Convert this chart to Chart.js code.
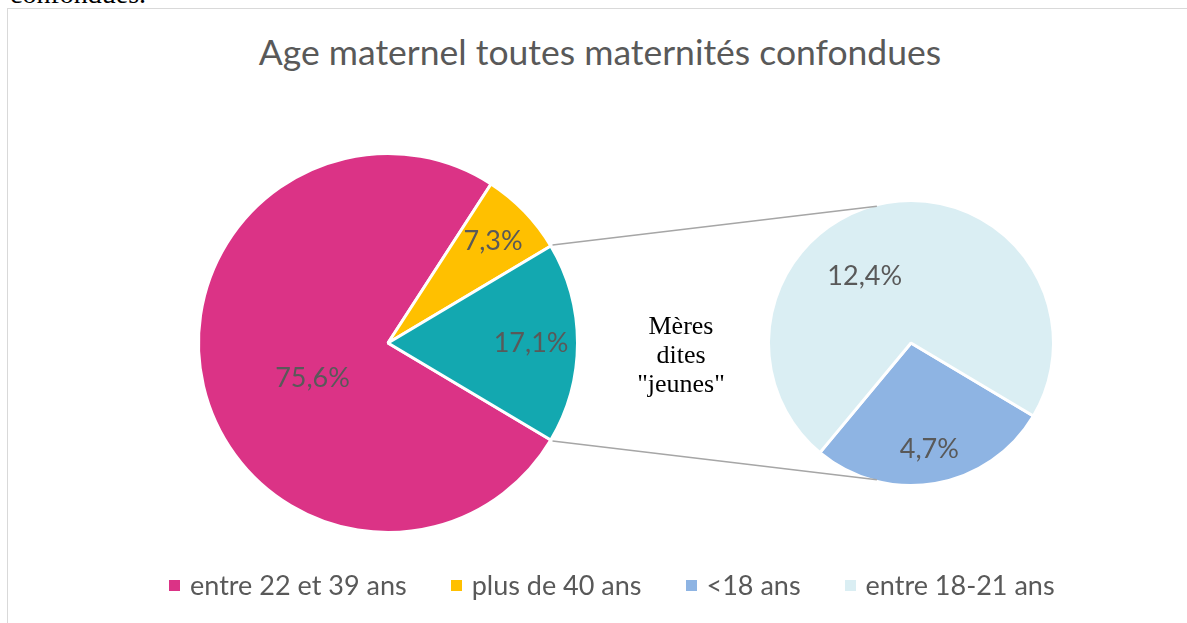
<!DOCTYPE html>
<html lang="fr">
<head>
<meta charset="utf-8">
<script src="https://cdn.jsdelivr.net/npm/chart.js@4.4.1/dist/chart.umd.min.js"></script>
<style>
  html, body { margin: 0; padding: 0; background: #fff; }
  body { width: 1187px; height: 623px; position: relative; overflow: hidden; font-family: Lato, "Open Sans", sans-serif; }
  #cut { position: absolute; left: 10px; top: -22px; font: 28px "Liberation Serif", serif; color: #000; white-space: nowrap; }
  #frame { position: absolute; left: 7px; top: 8px; right: -2px; bottom: -2px; border-left: 1px solid #d9d9d9; border-top: 1px solid #d9d9d9; }
  #title { position: absolute; left: 0; width: 1200px; top: 30px; text-align: center; font-size: 35.5px; line-height: 44px; color: #595959; }
  .layer { position: absolute; left: 0; top: 0; }
  #jeunes { position: absolute; left: 596px; width: 170px; top: 311px; text-align: center; font: 26px/29px "Liberation Serif", serif; color: #000; }
  #legend { position: absolute; left: 169px; top: 569px; display: flex; gap: 44px; font-size: 27px; line-height: 32px; color: #595959; }
  #legend span { display: flex; align-items: center; }
  #legend i { display: inline-block; width: 11px; height: 11px; margin-right: 10px; }
</style>
</head>
<body>
<div id="cut">confondues.</div>
<div id="frame"></div>
<div id="title">Age maternel toutes maternités confondues</div>
<canvas id="mainPie" class="layer" width="1187" height="623"></canvas>
<canvas id="subPie" class="layer" width="1187" height="623"></canvas>
<div id="jeunes">Mères<br>dites<br>"jeunes"</div>
<div id="legend"></div>

<script>
// pie 1: all ages (percent)
const mainLabels = ['entre 22 et 39 ans', 'plus de 40 ans', 'Mères dites "jeunes"'];
const mainValues = [75.6, 7.3, 17.1];
const mainColors = ['#DB3386', '#FFC000', '#13A8B0'];

// pie 2: breakdown of the "jeunes" slice
const subLabels = ['<18 ans', 'entre 18-21 ans'];
const subValues = [4.7, 12.4];
const subColors = ['#8EB4E3', '#DAEEF3'];

const legendItems = [
    [mainLabels[0], mainColors[0]],
    [mainLabels[1], mainColors[1]],
    [subLabels[0], subColors[0]],
    [subLabels[1], subColors[1]]
];

const fmt = v => v.toFixed(1).replace('.', ',') + '%';
const toRad = d => d * Math.PI / 180;

// draws the percent text inside each slice
const sliceLabels = {
    id: 'sliceLabels',
    afterDatasetsDraw(chart, args, opts) {
        const ctx = chart.ctx;
        const meta = chart.getDatasetMeta(0);
        const values = chart.data.datasets[0].data;
        ctx.save();
        ctx.font = '27px Lato, "Open Sans", sans-serif';
        ctx.fillStyle = '#595959';
        ctx.textAlign = 'center';
        ctx.textBaseline = 'middle';
        meta.data.forEach((arc, i) => {
            const p = arc.getProps(['x', 'y', 'startAngle', 'endAngle', 'outerRadius'], true);
            const spot = opts.spots[i];
            const a = (p.startAngle + p.endAngle) / 2 + toRad(spot.a);
            const r = p.outerRadius * spot.r;
            ctx.fillText(fmt(values[i]), p.x + Math.cos(a) * r, p.y + Math.sin(a) * r);
        });
        ctx.restore();
    }
};

let mainChart = null;

// grey lines joining the teal slice to the second pie
const connectors = {
    id: 'connectors',
    afterDatasetsDraw(chart, args, opts) {
        if (!mainChart) return;
        const teal = mainChart.getDatasetMeta(0).data[2].getProps(['x', 'y', 'startAngle', 'endAngle', 'outerRadius'], true);
        const sub = chart.getDatasetMeta(0).data[0].getProps(['x', 'y', 'outerRadius'], true);
        const ctx = chart.ctx;
        const r1 = teal.outerRadius + 2;
        const r2 = sub.outerRadius - 1.5;
        ctx.save();
        ctx.strokeStyle = '#A6A6A6';
        ctx.lineWidth = 1.5;
        [[teal.startAngle, -opts.angle], [teal.endAngle, opts.angle]].forEach(([a1, a2]) => {
            ctx.beginPath();
            ctx.moveTo(teal.x + Math.cos(a1) * r1, teal.y + Math.sin(a1) * r1);
            ctx.lineTo(sub.x + Math.cos(toRad(a2)) * r2, sub.y + Math.sin(toRad(a2)) * r2);
            ctx.stroke();
        });
        ctx.restore();
    }
};

function pieOptions(padding, spots, extra) {
    return {
        responsive: false,
        animation: false,
        devicePixelRatio: 1,
        rotation: 120.78,
        layout: { padding },
        plugins: Object.assign({
            legend: { display: false },
            tooltip: { enabled: false },
            sliceLabels: { spots }
        }, extra || {})
    };
}

mainChart = new Chart(document.getElementById('mainPie'), {
    type: 'pie',
    data: {
        labels: mainLabels,
        datasets: [{ data: mainValues, backgroundColor: mainColors, borderColor: '#fff', borderWidth: 3 }]
    },
    options: pieOptions({ left: 197, top: 152, right: 608, bottom: 89 },
        [{ r: 0.44, a: -12 }, { r: 0.77, a: 0 }, { r: 0.755, a: 0 }]),
    plugins: [sliceLabels]
});

new Chart(document.getElementById('subPie'), {
    type: 'pie',
    data: {
        labels: subLabels,
        datasets: [{ data: subValues, backgroundColor: subColors, borderColor: '#fff', borderWidth: 3 }]
    },
    options: pieOptions({ left: 767, top: 199, right: 132, bottom: 136 },
        [{ r: 0.76, a: 0 }, { r: 0.57, a: -25 }],
        { connectors: { angle: 104 } }),
    plugins: [sliceLabels, connectors]
});

const legend = document.getElementById('legend');
legendItems.forEach(([text, color]) => {
    const item = document.createElement('span');
    item.innerHTML = `<i style="background:${color}"></i>`;
    item.appendChild(document.createTextNode(text));
    legend.appendChild(item);
});
</script>
</body>
</html>
